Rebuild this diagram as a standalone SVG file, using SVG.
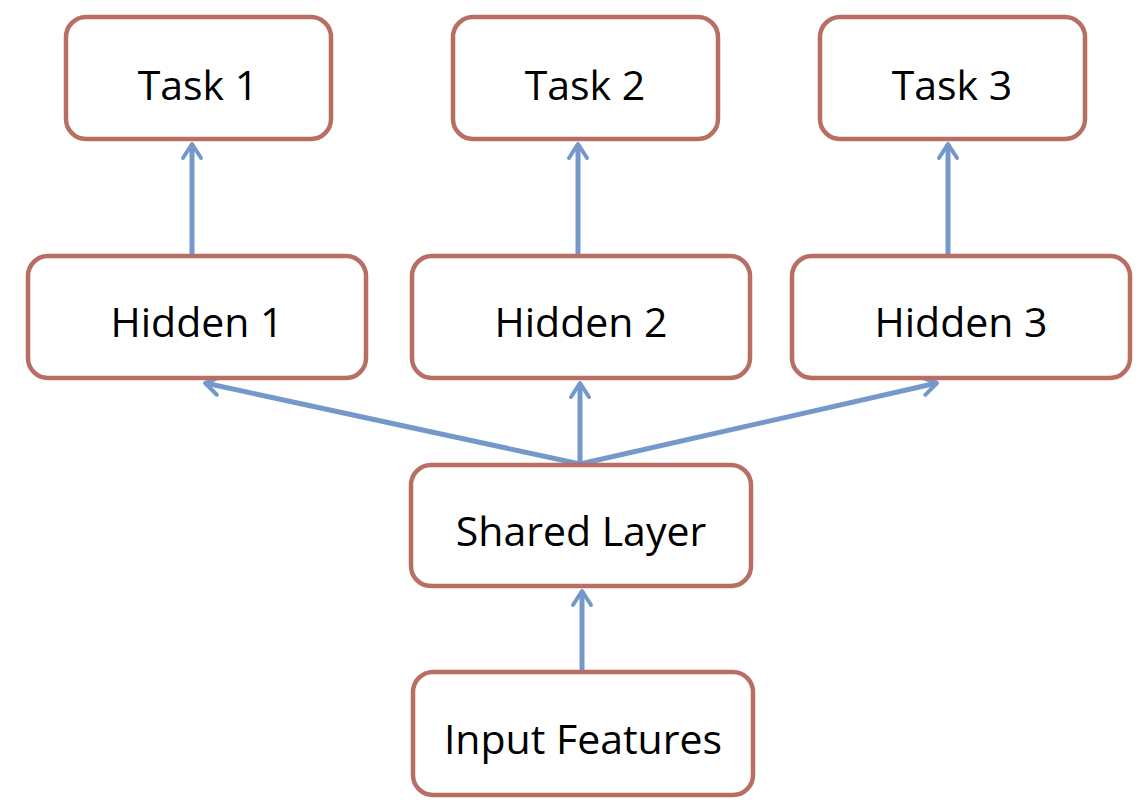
<svg xmlns="http://www.w3.org/2000/svg" width="1146" height="805" viewBox="0 0 1146 805">
<defs>
<style>
.box{fill:#fff;stroke:#b96e64;stroke-width:4.5}
.lbl{font-family:"Open Sans","Liberation Sans",sans-serif;font-size:41px;fill:#000;text-anchor:middle}
.edge{stroke:#7498ca;stroke-width:5;fill:none;marker-end:url(#ah)}
</style>
<marker id="ah" viewBox="0 0 12 12" refX="10" refY="6" markerWidth="4.8" markerHeight="4.8" orient="auto" markerUnits="strokeWidth">
<path d="M3,1.5 L10,6 L3,10.5" fill="none" stroke="#7498ca" stroke-width="2" stroke-linecap="round" stroke-linejoin="round"/>
</marker>
</defs>
<rect width="1146" height="805" fill="#fff"/>
<g id="connectors">
<line class="edge" x1="192" y1="255" x2="192" y2="144"/>
<line class="edge" x1="578" y1="255" x2="578" y2="144"/>
<line class="edge" x1="948" y1="255" x2="948" y2="144"/>
<line class="edge" x1="580" y1="464" x2="205" y2="383"/>
<line class="edge" x1="580" y1="464" x2="580" y2="383"/>
<line class="edge" x1="580" y1="464" x2="937" y2="383"/>
<line class="edge" x1="582" y1="671" x2="582" y2="591"/>
</g>
<g id="task1"><rect class="box" x="66" y="17" width="265" height="122" rx="20"/><text class="lbl" x="198" y="100">Task 1</text></g>
<g id="task2"><rect class="box" x="453" y="17" width="265" height="122" rx="20"/><text class="lbl" x="585" y="100">Task 2</text></g>
<g id="task3"><rect class="box" x="820" y="17" width="265" height="122" rx="20"/><text class="lbl" x="952" y="100">Task 3</text></g>
<g id="hidden1"><rect class="box" x="28" y="256" width="338" height="122" rx="20"/><text class="lbl" x="197" y="337">Hidden 1</text></g>
<g id="hidden2"><rect class="box" x="412" y="256" width="338" height="122" rx="20"/><text class="lbl" x="581" y="337">Hidden 2</text></g>
<g id="hidden3"><rect class="box" x="792" y="256" width="338" height="122" rx="20"/><text class="lbl" x="961" y="337">Hidden 3</text></g>
<g id="shared"><rect class="box" x="411" y="465" width="340" height="121" rx="20"/><text class="lbl" x="581" y="546">Shared Layer</text></g>
<g id="input"><rect class="box" x="413" y="672" width="340" height="123" rx="20"/><text class="lbl" x="583" y="754">Input Features</text></g>
</svg>
